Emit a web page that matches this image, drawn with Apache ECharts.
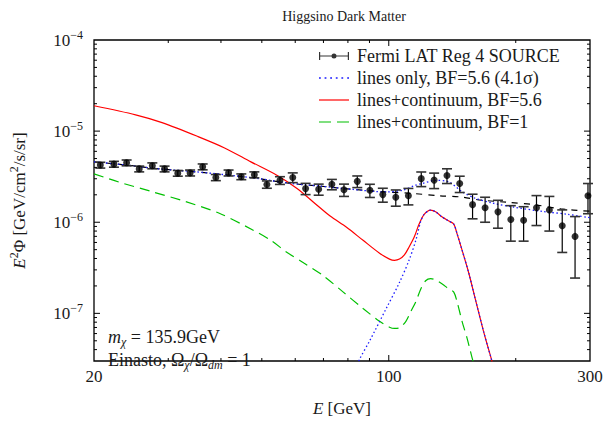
<!DOCTYPE html>
<html><head><meta charset="utf-8">
<script src="https://cdn.jsdelivr.net/npm/echarts@6/dist/echarts.min.js"></script>
<style>html,body{margin:0;padding:0;background:#fff}#c{width:612px;height:422px}</style>
</head><body><div id="c"></div>
<script>
// ---- Fermi LAT data points ----
const E_DATA = [20.7, 22.3, 23.9, 25.6, 27.5, 29.4, 31.6, 33.8, 36.2, 38.9, 41.7, 44.7, 48.0, 51.4, 55.2, 59.2, 63.5, 68.2, 73.3, 78.3, 84.2, 90.2, 96.8, 103.9, 111.3, 119.4, 128.1, 137.4, 147.3, 158.0, 169.2, 181.5, 194.7, 208.8, 224.0, 240.3, 257.8, 276.5, 296.7];
const FLUX = [4.24e-6, 4.34e-6, 4.49e-6, 3.85e-6, 4.17e-6, 3.85e-6, 3.45e-6, 3.48e-6, 4.06e-6, 3.10e-6, 3.48e-6, 3.16e-6, 3.32e-6, 2.60e-6, 2.88e-6, 3.10e-6, 2.34e-6, 2.30e-6, 2.61e-6, 2.27e-6, 2.81e-6, 2.24e-6, 2.01e-6, 1.88e-6, 1.95e-6, 3.01e-6, 2.90e-6, 3.26e-6, 2.66e-6, 1.56e-6, 1.44e-6, 1.30e-6, 1.07e-6, 1.05e-6, 1.44e-6, 1.36e-6, 9.16e-7, 6.99e-7, 1.95e-6];
const SIGMA = [0.31e-6, 0.32e-6, 0.33e-6, 0.28e-6, 0.31e-6, 0.28e-6, 0.25e-6, 0.26e-6, 0.30e-6, 0.24e-6, 0.26e-6, 0.23e-6, 0.25e-6, 0.24e-6, 0.28e-6, 0.38e-6, 0.33e-6, 0.32e-6, 0.34e-6, 0.35e-6, 0.41e-6, 0.37e-6, 0.35e-6, 0.38e-6, 0.40e-6, 0.55e-6, 0.56e-6, 0.60e-6, 0.54e-6, 0.47e-6, 0.44e-6, 0.44e-6, 0.45e-6, 0.43e-6, 0.52e-6, 0.56e-6, 0.45e-6, 0.455e-6, 0.71e-6];

// ---- background (black dashed) ----
const BKG_E = [20, 23.9, 28.7, 34.3, 41.0, 49.3, 57.3, 68.9, 82.4, 98.4, 113.8, 131.8, 149.2, 163.5, 192.3, 221.2, 256.0, 300];
const BKG_V = [4.60e-6, 4.24e-6, 3.84e-6, 3.60e-6, 3.32e-6, 3.01e-6, 2.70e-6, 2.49e-6, 2.29e-6, 2.15e-6, 2.07e-6, 1.95e-6, 1.89e-6, 1.76e-6, 1.65e-6, 1.56e-6, 1.40e-6, 1.32e-6];

// ---- lines only, BF=5.6: total fit (blue dotted) ----
const LTOT_E = [20, 23.9, 28.7, 34.3, 41.0, 49.3, 57.3, 68.9, 82.4, 98.4, 107.9, 115.7, 120.2, 128.9, 139.1, 149.2, 160.0, 175.4, 198.6, 229.8, 265.8, 300];
const LTOT_V = [4.60e-6, 4.24e-6, 3.84e-6, 3.60e-6, 3.32e-6, 3.01e-6, 2.70e-6, 2.49e-6, 2.29e-6, 2.15e-6, 2.25e-6, 2.55e-6, 2.66e-6, 2.88e-6, 2.76e-6, 2.16e-6, 1.84e-6, 1.63e-6, 1.46e-6, 1.32e-6, 1.22e-6, 1.12e-6];

// ---- lines only, BF=5.6: line signal (blue dotted) ----
const LSIG_E = [84.2, 85.4, 90.1, 98.6, 106.0, 111.8, 115.9, 119.1, 121.3, 125.7, 129.1, 133.9, 138.8, 142.6, 145.2, 149.2, 154.7, 160.3, 167.7, 175.4, 179.2];
const LSIG_V = [2.71e-8, 3.19e-8, 5.00e-8, 1.13e-7, 2.18e-7, 3.87e-7, 6.33e-7, 1.03e-6, 1.22e-6, 1.36e-6, 1.30e-6, 1.14e-6, 1.03e-6, 9.54e-7, 7.46e-7, 4.95e-7, 2.79e-7, 1.45e-7, 6.39e-8, 3.06e-8, 2.17e-8];

// ---- lines+continuum, BF=5.6 (red) ----
const C56_E = [20, 25.1, 29.0, 35.3, 40.8, 47.1, 54.4, 60.6, 66.3, 72.6, 79.4, 86.9, 95.1, 100.4, 103.2, 106.0, 108.9, 111.8, 114.9, 118.0, 121.3, 125.7, 129.1, 133.9, 138.8, 142.6, 145.2, 149.2, 154.7, 160.3, 167.7, 175.4, 179.2];
const C56_V = [1.90e-5, 1.51e-5, 1.24e-5, 8.71e-6, 6.54e-6, 4.60e-6, 3.26e-6, 2.35e-6, 1.66e-6, 1.17e-6, 8.80e-7, 6.33e-7, 4.57e-7, 3.94e-7, 3.82e-7, 3.94e-7, 4.38e-7, 5.38e-7, 6.88e-7, 9.54e-7, 1.22e-6, 1.36e-6, 1.30e-6, 1.14e-6, 1.03e-6, 9.54e-7, 7.46e-7, 4.95e-7, 2.79e-7, 1.45e-7, 6.39e-8, 3.06e-8, 2.17e-8];

// ---- lines+continuum, BF=1 (green) ----
const C1_E = [20, 22.9, 27.5, 32.9, 39.4, 47.1, 52.5, 57.4, 62.9, 70.0, 78.0, 86.9, 95.1, 100.4, 103.2, 106.0, 109.8, 112.8, 115.9, 119.1, 122.3, 125.7, 129.1, 133.9, 138.8, 142.6, 145.2, 149.2, 153.2, 156.0, 159.2];
const C1_V = [3.40e-6, 2.76e-6, 2.16e-6, 1.69e-6, 1.27e-6, 8.44e-7, 6.33e-7, 4.65e-7, 3.57e-7, 2.58e-7, 1.71e-7, 1.13e-7, 8.18e-8, 7.05e-8, 6.83e-8, 6.93e-8, 8.18e-8, 1.05e-7, 1.34e-7, 1.85e-7, 2.28e-7, 2.41e-7, 2.33e-7, 2.10e-7, 1.85e-7, 1.71e-7, 1.34e-7, 8.18e-8, 5.42e-8, 3.91e-8, 2.71e-8];

// ---- axes ----
const X_MIN = 20, X_MAX = 300;
const Y_MIN = 3e-8, Y_MAX = 1e-4;
const X_TICK_LABELS = [20, 100, 300];
const Y_TICK_LABELS = [1e-7, 1e-6, 1e-5, 1e-4];
const X_TICKS_MAJOR = [100];
const X_TICKS_MINOR = [30, 40, 50, 60, 70, 80, 90, 200];
const Y_TICKS_MAJOR = [1e-7, 1e-6, 1e-5];
const Y_TICKS_MINOR = [4e-8, 5e-8, 6e-8, 7e-8, 8e-8, 9e-8,
  2e-7, 3e-7, 4e-7, 5e-7, 6e-7, 7e-7, 8e-7, 9e-7,
  2e-6, 3e-6, 4e-6, 5e-6, 6e-6, 7e-6, 8e-6, 9e-6,
  2e-5, 3e-5, 4e-5, 5e-5, 6e-5, 7e-5, 8e-5, 9e-5];

const NAMES = {
  data: 'Fermi LAT Reg 4 SOURCE',
  lines: 'lines only, BF=5.6 (4.1σ)',
  c56: 'lines+continuum, BF=5.6',
  c1: 'lines+continuum, BF=1'
};

const FONT = 'Liberation Serif';
const TXT = '#1a1a1a';
const BLUE = '#1a1aff', RED = '#ff0000', GREEN = '#00c000';
const zip = (a, b) => a.map((v, i) => [v, b[i]]);

function renderErr(params, api) {
  const x = api.value(0);
  const lo = api.coord([x, api.value(1)]);
  const hi = api.coord([x, api.value(2)]);
  const w = 5;
  const cap = { stroke: '#333', lineWidth: 1.6 };
  return { type: 'group', children: [
    { type: 'line', shape: { x1: lo[0], y1: lo[1], x2: hi[0], y2: hi[1] }, style: { stroke: '#000', lineWidth: 1.2 } },
    { type: 'line', shape: { x1: lo[0] - w, y1: lo[1], x2: lo[0] + w, y2: lo[1] }, style: cap },
    { type: 'line', shape: { x1: hi[0] - w, y1: hi[1], x2: hi[0] + w, y2: hi[1] }, style: cap }
  ]};
}
function renderXTick(params, api) {
  const v = api.value(0), len = api.value(2);
  const b = api.coord([v, Y_MIN]), t = api.coord([v, Y_MAX]);
  const st = { stroke: '#000', lineWidth: 1 };
  return { type: 'group', children: [
    { type: 'line', shape: { x1: b[0], y1: b[1], x2: b[0], y2: b[1] - len }, style: st },
    { type: 'line', shape: { x1: t[0], y1: t[1], x2: t[0], y2: t[1] + len }, style: st }
  ]};
}
function renderYTick(params, api) {
  const v = api.value(1), len = api.value(2);
  const l = api.coord([X_MIN, v]), r = api.coord([X_MAX, v]);
  const st = { stroke: '#000', lineWidth: 1 };
  return { type: 'group', children: [
    { type: 'line', shape: { x1: l[0], y1: l[1], x2: l[0] + len, y2: l[1] }, style: st },
    { type: 'line', shape: { x1: r[0], y1: r[1], x2: r[0] - len, y2: r[1] }, style: st }
  ]};
}

const xTickData = X_TICKS_MAJOR.map(v => [v, Y_MIN, 6]).concat(X_TICKS_MINOR.map(v => [v, Y_MIN, 3]));
const yTickData = Y_TICKS_MAJOR.map(v => [X_MIN, v, 6]).concat(Y_TICKS_MINOR.map(v => [X_MIN, v, 3]));
const errData = E_DATA.map((e, i) => [e, FLUX[i] - SIGMA[i], FLUX[i] + SIGMA[i]]);

const blueStyle = { color: BLUE, width: 1.3, type: [1.5, 2.5] };

// legend icon shapes
const ICON_ERR = 'path://M0,2H1.2V10H0Z M28.8,2H30V10H28.8Z M0,5.4H30V6.6H0Z M12.5,6A2.5,2.5,0,1,1,17.5,6A2.5,2.5,0,1,1,12.5,6Z';
const ICON_DOT = 'path://M0,5.3H1.8V6.7H0Z M5.6,5.3H7.4V6.7H5.6Z M11.2,5.3H13V6.7H11.2Z M16.8,5.3H18.6V6.7H16.8Z M22.4,5.3H24.2V6.7H22.4Z M28.2,5.3H30V6.7H28.2Z';
const ICON_SOLID = 'path://M0,5.4H30V6.6H0Z';
const ICON_DASH = 'path://M0,5.4H12V6.6H0Z M18,5.4H30V6.6H18Z';

const option = {
  animation: false,
  backgroundColor: '#fff',
  title: [
    { text: 'Higgsino Dark Matter', left: 339, top: 4, textAlign: 'center',
      textStyle: { fontFamily: FONT, fontSize: 14, fontWeight: 'normal', color: TXT } },
    { text: '{i|m}{s|χ} = 135.9GeV\nEinasto, Ω{s|χ}/Ω{s|dm} = 1', left: 103, top: 320,
      textStyle: { fontFamily: FONT, fontSize: 18, fontWeight: 'normal', color: TXT, lineHeight: 23,
        rich: {
          i: { fontFamily: FONT, fontSize: 18, fontStyle: 'italic', color: TXT, lineHeight: 23 },
          s: { fontFamily: FONT, fontSize: 12, fontStyle: 'italic', color: TXT, lineHeight: 17, verticalAlign: 'bottom' }
        } } }
  ],
  legend: {
    left: 314, top: 42, orient: 'vertical', itemWidth: 30, itemHeight: 12, itemGap: 4,
    selectedMode: false,
    textStyle: { fontFamily: FONT, fontSize: 18, color: TXT, padding: [0, 0, 0, 3] },
    data: [
      { name: NAMES.data, icon: ICON_ERR, itemStyle: { color: '#000' } },
      { name: NAMES.lines, icon: ICON_DOT, itemStyle: { color: BLUE } },
      { name: NAMES.c56, icon: ICON_SOLID, itemStyle: { color: RED } },
      { name: NAMES.c1, icon: ICON_DASH, itemStyle: { color: GREEN } }
    ]
  },
  grid: { left: 88, right: 22, top: 40, bottom: 51, show: true, borderColor: '#000', borderWidth: 1.3, backgroundColor: 'transparent' },
  xAxis: {
    type: 'log', logBase: 10, min: X_MIN, max: X_MAX,
    name: '{i|E} [GeV]', nameLocation: 'middle', nameGap: 39,
    nameTextStyle: { fontFamily: FONT, fontSize: 17, color: TXT,
      rich: { i: { fontFamily: FONT, fontSize: 17, fontStyle: 'italic', color: TXT } } },
    axisLine: { show: false }, axisTick: { show: false }, splitLine: { show: false }, minorTick: { show: false },
    axisLabel: {
      fontFamily: FONT, fontSize: 17, color: TXT, margin: 7, showMinLabel: true, showMaxLabel: true,
      formatter: v => { const t = X_TICK_LABELS.find(t => Math.abs(t - v) / t < 1e-6); return t === undefined ? '' : String(t); }
    }
  },
  yAxis: {
    type: 'log', logBase: 10, min: Y_MIN, max: Y_MAX,
    name: '{i|E}{sup|2}Φ [GeV/cm{sup|2}/s/sr]', nameLocation: 'middle', nameGap: 64,
    nameTextStyle: { fontFamily: FONT, fontSize: 17, color: TXT, lineHeight: 22,
      rich: {
        i: { fontFamily: FONT, fontSize: 17, fontStyle: 'italic', color: TXT, lineHeight: 22 },
        sup: { fontFamily: FONT, fontSize: 12, color: TXT, lineHeight: 14, verticalAlign: 'top' }
      } },
    axisLine: { show: false }, axisTick: { show: false }, splitLine: { show: false }, minorTick: { show: false },
    axisLabel: {
      margin: 11, showMinLabel: true, showMaxLabel: true,
      formatter: v => {
        const t = Y_TICK_LABELS.find(t => Math.abs(t - v) / t < 1e-6);
        if (t === undefined) return '';
        return '{b|10}{e|−' + Math.round(-Math.log10(t)) + '}';
      },
      rich: {
        b: { fontFamily: FONT, fontSize: 17, color: TXT, lineHeight: 22 },
        e: { fontFamily: FONT, fontSize: 12, color: TXT, lineHeight: 14, verticalAlign: 'top' }
      }
    }
  },
  series: [
    { type: 'custom', name: 'xticks', renderItem: renderXTick, data: xTickData, encode: { x: 0, y: 1 }, silent: true, z: 10 },
    { type: 'custom', name: 'yticks', renderItem: renderYTick, data: yTickData, encode: { x: 0, y: 1 }, silent: true, z: 10 },
    { type: 'line', name: 'background', data: zip(BKG_E, BKG_V), symbol: 'none', smooth: 0.3,
      lineStyle: { color: '#000', width: 1.2, type: [6, 6] }, z: 3 },
    { type: 'line', name: NAMES.c56, data: zip(C56_E, C56_V), symbol: 'none', smooth: 0.3,
      itemStyle: { color: RED }, lineStyle: { color: RED, width: 1.2 }, z: 3 },
    { type: 'line', name: NAMES.c1, data: zip(C1_E, C1_V), symbol: 'none', smooth: 0.3,
      itemStyle: { color: GREEN }, lineStyle: { color: GREEN, width: 1.2, type: [10, 6] }, z: 3 },
    { type: 'line', name: NAMES.lines, data: zip(LTOT_E, LTOT_V), symbol: 'none', smooth: 0.3,
      itemStyle: { color: BLUE }, lineStyle: blueStyle, z: 4 },
    { type: 'line', name: NAMES.lines, data: zip(LSIG_E, LSIG_V), symbol: 'none', smooth: 0.3,
      itemStyle: { color: BLUE }, lineStyle: blueStyle, z: 4 },
    { type: 'custom', name: 'errorbars', renderItem: renderErr, data: errData, encode: { x: 0, y: [1, 2] }, z: 5 },
    { type: 'scatter', name: NAMES.data, data: zip(E_DATA, FLUX), symbol: 'circle', symbolSize: 7,
      itemStyle: { color: '#000' }, z: 6 }
  ]
};

const chart = echarts.init(document.getElementById('c'), null, { renderer: 'svg' });
chart.setOption(option);
</script></body></html>
